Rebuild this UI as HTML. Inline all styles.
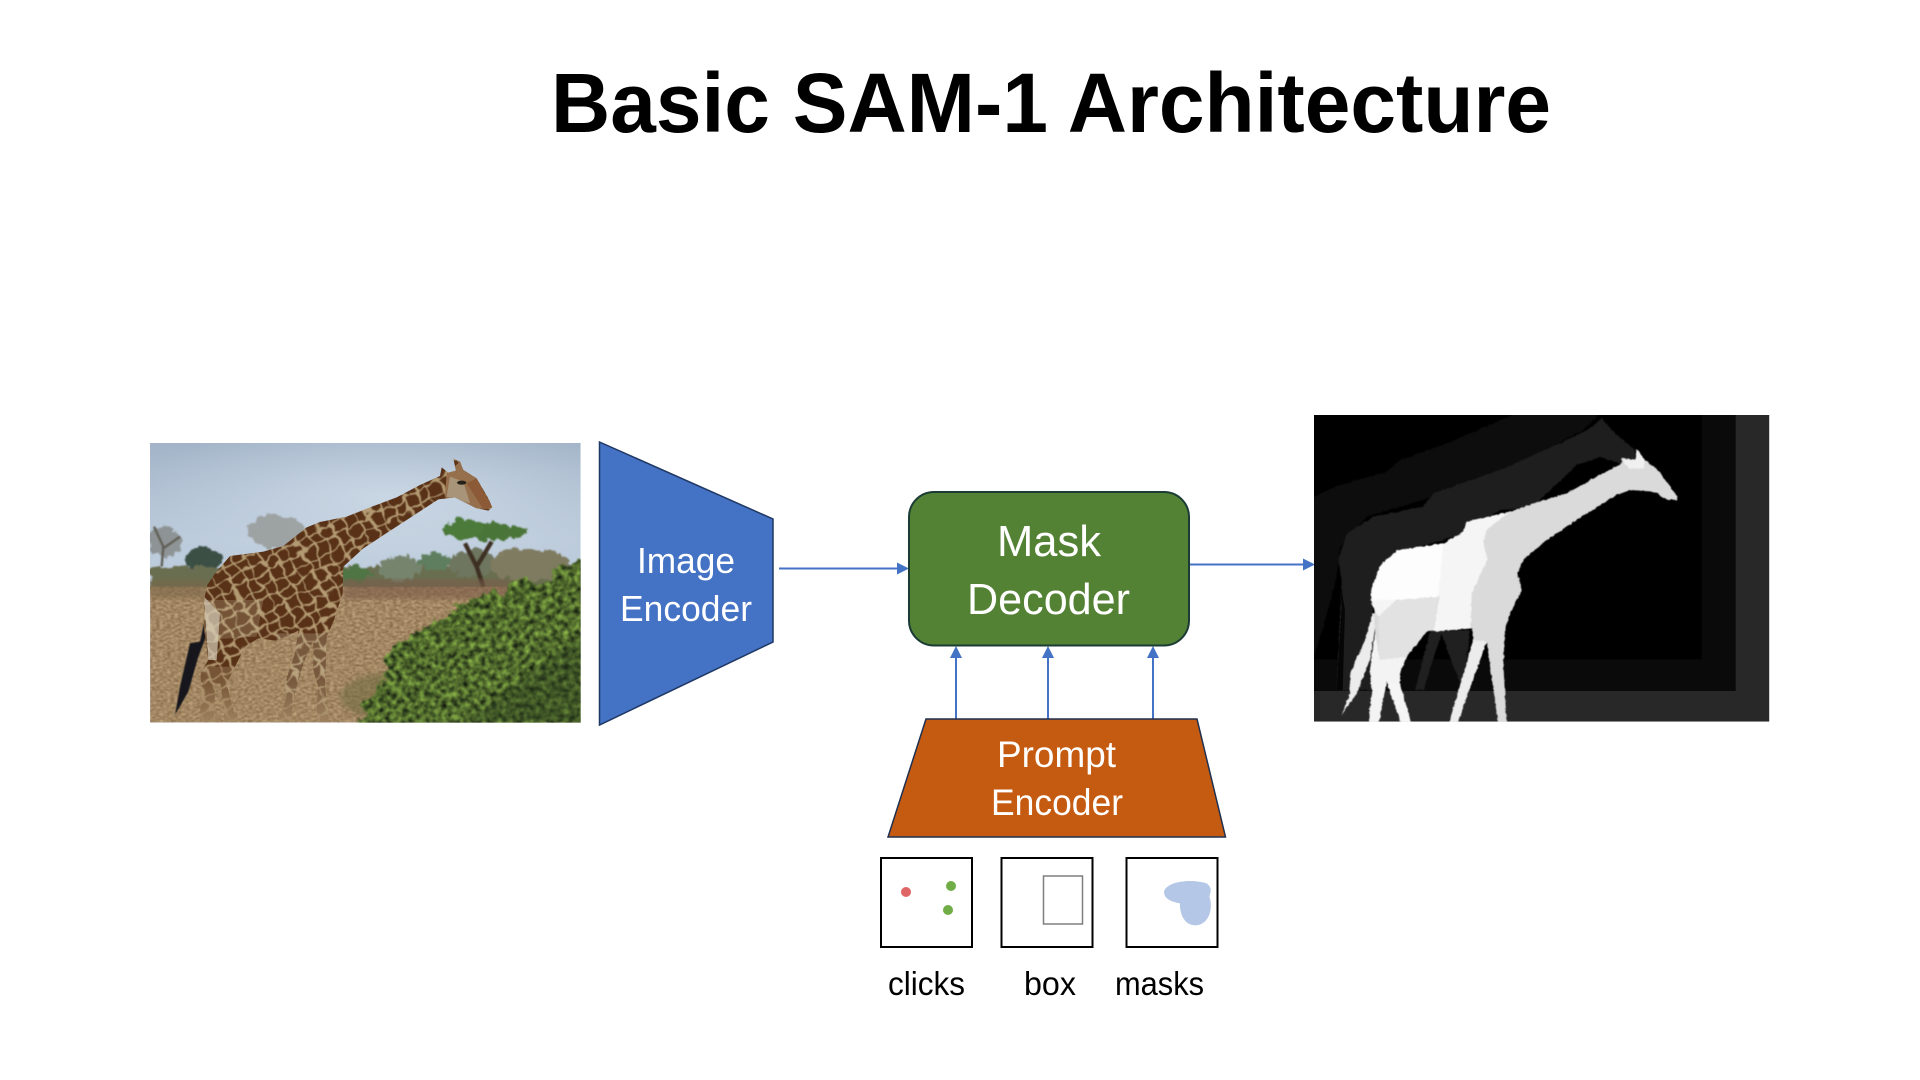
<!DOCTYPE html>
<html><head><meta charset="utf-8"><title>Basic SAM-1 Architecture</title>
<style>html,body{margin:0;padding:0;background:#fff;width:1920px;height:1080px;overflow:hidden}svg{display:block}text{font-family:"Liberation Sans",sans-serif}</style>
</head><body>
<svg width="1920" height="1080" viewBox="0 0 1920 1080" xmlns="http://www.w3.org/2000/svg">
<defs>
<linearGradient id="sky" x1="0" y1="0" x2="0" y2="1"><stop offset="0" stop-color="#a3b4c8"/><stop offset=".35" stop-color="#bccbdb"/><stop offset=".6" stop-color="#bfcede"/><stop offset="1" stop-color="#c9d6e3"/></linearGradient>
<radialGradient id="skyGlow" cx=".55" cy=".4" r=".6"><stop offset="0" stop-color="#d4e0ec" stop-opacity=".7"/><stop offset="1" stop-color="#d4e0ec" stop-opacity="0"/></radialGradient>
<linearGradient id="legFade" x1="0" y1="0" x2="0" y2="1"><stop offset="0" stop-color="#a58a66" stop-opacity="0"/><stop offset="1" stop-color="#a58a66" stop-opacity=".85"/></linearGradient>
<filter id="b1" x="-5%" y="-5%" width="110%" height="110%"><feGaussianBlur stdDeviation="2.500"/></filter>
<filter id="b2" x="-5%" y="-5%" width="110%" height="110%"><feGaussianBlur stdDeviation="1.500"/></filter>
<filter id="b3" x="-5%" y="-5%" width="110%" height="110%"><feGaussianBlur stdDeviation="8"/></filter>
<filter id="rough" x="-5%" y="-5%" width="110%" height="110%" color-interpolation-filters="sRGB"><feTurbulence type="fractalNoise" baseFrequency=".04" numOctaves="3" seed="2"/><feDisplacementMap in="SourceGraphic" scale="34" xChannelSelector="R" yChannelSelector="G"/><feGaussianBlur stdDeviation="2"/></filter>
<filter id="bush" x="-5%" y="-5%" width="110%" height="110%" color-interpolation-filters="sRGB"><feTurbulence type="fractalNoise" baseFrequency=".03" numOctaves="4" seed="3" result="n"/><feDisplacementMap in="SourceGraphic" in2="n" scale="70" xChannelSelector="R" yChannelSelector="G" result="d"/><feTurbulence type="fractalNoise" baseFrequency=".06" numOctaves="3" seed="7"/><feColorMatrix values=".75 0 0 0 -.06  .95 0 0 0 -.06  .35 0 0 0 0  0 0 0 0 1" result="c"/><feComposite in="c" in2="d" operator="in"/><feGaussianBlur stdDeviation="2"/></filter>
<filter id="grass" x="0" y="0" width="100%" height="100%" color-interpolation-filters="sRGB"><feTurbulence type="fractalNoise" baseFrequency=".09 .15" numOctaves="3" seed="11"/><feColorMatrix values=".4 0 0 0 .44  .4 0 0 0 .33  .36 0 0 0 .21  0 0 0 0 1" result="c"/><feComposite in="c" in2="SourceGraphic" operator="in"/><feGaussianBlur stdDeviation="1.500"/></filter>
<filter id="wobble" x="-5%" y="-5%" width="110%" height="110%" color-interpolation-filters="sRGB"><feTurbulence type="fractalNoise" baseFrequency=".025" numOctaves="2" seed="4"/><feDisplacementMap in="SourceGraphic" scale="34" xChannelSelector="R" yChannelSelector="G"/><feGaussianBlur stdDeviation="1.200"/></filter>
<filter id="maskEdge" x="-3%" y="-3%" width="106%" height="106%" color-interpolation-filters="sRGB"><feTurbulence type="fractalNoise" baseFrequency=".09" numOctaves="2" seed="6"/><feDisplacementMap in="SourceGraphic" scale="8" xChannelSelector="R" yChannelSelector="G"/><feGaussianBlur stdDeviation="1.200"/></filter>
<pattern id="spots" width="115" height="105" patternUnits="userSpaceOnUse" patternTransform="rotate(-28)">
<rect width="115" height="105" fill="#b39a72"/>
<g fill="#583117">
<path d="M2,3 L35,2 L38,27 L20,35 L2,30Z"/><path d="M42,3 L75,4 L72,30 L44,32Z"/><path d="M81,2 L114,7 L112,32 L78,30Z"/>
<path d="M3,38 L30,38 L40,62 L20,69 L2,64Z"/><path d="M46,37 L75,35 L80,60 L55,67 L44,57Z"/><path d="M84,37 L114,37 L114,64 L87,66Z"/>
<path d="M3,74 L36,72 L32,103 L5,103Z"/><path d="M43,70 L75,69 L78,103 L46,103Z"/><path d="M84,70 L114,70 L112,103 L82,103Z"/>
</g>
</pattern>
<clipPath id="photoClip"><rect x="60" y="69" width="1292" height="839"/></clipPath>
<clipPath id="maskClip"><rect x="42" y="45" width="1366" height="920"/></clipPath>
<clipPath id="gClip"><path d="M1087,262 L1075,235 L1040,175 L1000,150 L990,125 L970,116 L978,152 L955,158 L935,142 L930,168 L870,195 L800,232 L720,262 L650,290 L570,306 L530,322 L460,378 L400,395 L300,408 L255,460 L232,495 L222,540 L222,625 L235,720 L212,760 L212,905 L252,905 L255,790 L272,790 L285,905 L318,905 L290,790 L345,680 L385,655 L440,662 L505,632 L495,700 L465,790 L470,830 L445,905 L480,905 L495,820 L520,730 L550,660 L550,750 L565,800 L560,905 L595,905 L585,790 L590,650 L612,600 L638,520 L640,440 L700,385 L830,300 L925,238 L975,232 L1040,265 L1075,272Z"/></clipPath>
</defs>
<rect width="1920" height="1080" fill="#fff"/>

<text x="551" y="132" font-size="84" font-weight="700" fill="#000" textLength="1000" lengthAdjust="spacingAndGlyphs">Basic SAM-1 Architecture</text>

<!-- Photo -->
<g transform="translate(130,420) scale(.33333)" clip-path="url(#photoClip)">
<rect x="60" y="69" width="1292" height="839" fill="url(#sky)"/>
<rect x="60" y="69" width="1292" height="400" fill="url(#skyGlow)"/>
<g filter="url(#rough)">
<ellipse cx="105" cy="365" rx="50" ry="45" fill="#6f7068" opacity=".6"/>
<ellipse cx="440" cy="335" rx="85" ry="50" fill="#8a8a82" opacity=".65"/>
<ellipse cx="222" cy="420" rx="55" ry="36" fill="#3c4f45"/>
<rect x="60" y="440" width="1292" height="70" fill="#6a6e50"/>
<ellipse cx="810" cy="445" rx="65" ry="38" fill="#76846e"/>
<ellipse cx="915" cy="425" rx="50" ry="26" fill="#5f7e5f"/>
<ellipse cx="1030" cy="430" rx="70" ry="42" fill="#6f7660"/>
<ellipse cx="1200" cy="435" rx="120" ry="50" fill="#7f7b60"/>
<ellipse cx="680" cy="462" rx="45" ry="24" fill="#4f7545"/>
<ellipse cx="1065" cy="335" rx="125" ry="26" fill="#4a7538"/>
<ellipse cx="1005" cy="325" rx="60" ry="28" fill="#4b7a3a"/>
</g>
<g filter="url(#b1)"><path d="M1068,525 L1040,440 L1005,370 M1040,440 L1085,365" stroke="#3c2f22" stroke-width="13" fill="none"/>
<path d="M95,440 L100,380 L72,320 M100,385 L150,350" stroke="#5e5d54" stroke-width="7" fill="none"/></g>
<path d="M60,500 H1352 V908 H60Z" fill="#fff" filter="url(#grass)"/>
<g filter="url(#b3)"><rect x="640" y="478" width="500" height="60" fill="#7a5b49" opacity=".6"/><rect x="60" y="480" width="170" height="55" fill="#7c6548" opacity=".6"/></g>
<g filter="url(#b3)"><ellipse cx="800" cy="830" rx="170" ry="75" fill="#6e6a3e" opacity=".55"/></g>
<path d="M1380,420 L1290,430 L1260,480 L1160,490 L1040,535 L940,590 L860,640 L770,690 L760,790 L700,860 L700,930 L1380,930Z" fill="#000" filter="url(#bush)"/>
<path d="M1352,640 L1200,760 L1010,908 L1352,908Z" fill="#26391a" opacity=".4" filter="url(#b3)"/>
<!-- tail -->
<path d="M222,610 L210,665 L180,670 L150,800 L135,885 L175,815 L205,710 L232,640Z" fill="#15151a" filter="url(#b2)"/>
<!-- giraffe -->
<g clip-path="url(#gClip)">
<rect x="40" y="50" width="1340" height="880" fill="url(#spots)" filter="url(#wobble)"/>
<path d="M222,540 L222,660 L380,650 L400,540Z" fill="#cdbb97" opacity=".25"/>
<path d="M1087,262 L1040,175 L990,125 L950,160 L945,232 L1040,265Z" fill="#96704c"/>
<path d="M950,230 L1020,250 L1000,185 L960,170Z" fill="#a89478"/>
<path d="M1040,175 L1087,262 L1060,268 L1010,190Z" fill="#8c5a36"/>
<path d="M222,530 L270,580 L260,720 L235,720Z" fill="#d5cdb8" opacity=".7"/>
<path d="M205,740 H330 V905 H205Z" fill="#a58a66" opacity=".4"/>
<path d="M440,640 H600 V905 H440Z" fill="#c4b598" opacity=".3"/>
<rect x="200" y="780" width="420" height="130" fill="url(#legFade)"/>
</g>
<ellipse cx="995" cy="188" rx="14" ry="6" fill="#252018"/>
</g>

<!-- Image Encoder -->
<polygon points="599.500,442 773,519 773,642 599.500,725" fill="#4472c4" stroke="#1f3864" stroke-width="1.500"/>
<text x="637" y="573" font-size="36" fill="#fff" textLength="98" lengthAdjust="spacingAndGlyphs">Image</text>
<text x="620" y="621" font-size="36" fill="#fff" textLength="132" lengthAdjust="spacingAndGlyphs">Encoder</text>

<!-- Arrows -->
<g stroke="#4472c4" stroke-width="2" fill="none">
<line x1="779" y1="568.500" x2="900" y2="568.500"/>
<line x1="1189" y1="564.500" x2="1305" y2="564.500"/>
<line x1="956" y1="719" x2="956" y2="655"/>
<line x1="1048" y1="719" x2="1048" y2="655"/>
<line x1="1153" y1="719" x2="1153" y2="655"/>
</g>
<g fill="#4472c4">
<polygon points="909,568.500 897,562.500 897,574.500"/>
<polygon points="1315,564.500 1303,558.500 1303,570.500"/>
<polygon points="956,646 950,658 962,658"/>
<polygon points="1048,646 1042,658 1054,658"/>
<polygon points="1153,646 1147,658 1159,658"/>
</g>

<!-- Mask Decoder -->
<rect x="909" y="492" width="280" height="153.500" rx="25" ry="25" fill="#548235" stroke="#1b3b35" stroke-width="2"/>
<text x="997" y="556" font-size="44" fill="#fff" textLength="104" lengthAdjust="spacingAndGlyphs">Mask</text>
<text x="967" y="614" font-size="44" fill="#fff" textLength="163" lengthAdjust="spacingAndGlyphs">Decoder</text>

<!-- Prompt Encoder -->
<polygon points="926,719 1197,719 1225.500,837 888,837" fill="#c55a11" stroke="#1f3050" stroke-width="1.500"/>
<text x="997" y="767" font-size="37" fill="#fff" textLength="119" lengthAdjust="spacingAndGlyphs">Prompt</text>
<text x="991" y="815" font-size="37" fill="#fff" textLength="132" lengthAdjust="spacingAndGlyphs">Encoder</text>

<!-- Mask output -->
<g transform="translate(1300,400) scale(.33333)" clip-path="url(#maskClip)">
<rect x="42" y="45" width="1366" height="920" fill="#282828"/>
<rect x="42" y="45" width="1265" height="828" fill="#0a0a0a"/>
<rect x="42" y="45" width="1163" height="733" fill="#000"/>
<g filter="url(#maskEdge)">
<polygon points="20,300 110,258 260,215 300,180 440,130 650,40 900,40 850,90 600,220 400,290 200,350 120,440 110,530 70,680 20,840" fill="#0d0d0d"/>
<polygon points="870,85 905,55 935,90 1005,150 1005,180 960,190 900,172 830,195 700,320 600,330 490,400 400,430 300,450 240,500 215,600 225,700 210,810 235,870 110,870 125,540 115,480 140,400 220,350 370,320 400,280 600,210 800,120" fill="#1e1e1e"/>
<polygon points="390,695 510,690 490,870 460,800 425,700 370,870 345,870" fill="#202020"/>
</g>
<polygon points="120,540 135,630 128,870 110,870 125,620" fill="#060606"/>
<g filter="url(#maskEdge)">
<polygon points="218,640 195,720 150,820 150,880 125,945 170,880 210,780 232,640" fill="#ececec"/>
<polygon points="1132,300 1100,298 1060,275 990,270 950,285 860,340 740,420 670,480 652,520 665,570 630,640 615,690 610,790 620,975 595,975 560,725 470,975 445,975 520,720 515,685 380,695 320,770 300,820 300,850 335,975 305,975 260,845 235,975 205,975 215,880 210,810 225,700 222,630 212,600 215,560 245,490 295,450 430,430 490,395 500,365 630,335 700,310 800,280 900,225 965,190 965,175 1005,178 1010,145 1035,180 1070,205 1132,290" fill="#dadada"/>
<polygon points="212,600 215,560 245,490 295,450 430,430 490,395 500,365 630,335 560,390 550,430 562,480 515,580 512,685 400,695 418,590 290,600 235,650 222,630" fill="#f5f5f5"/>
<polygon points="245,490 295,450 430,430 415,590 290,600 215,600 215,560" fill="#fdfdfd"/>
<polygon points="235,650 290,600 415,590 400,690 380,695 320,770 270,780 240,780" fill="#e2e2e2"/>
<polygon points="965,178 1005,180 1012,150 1035,182 1030,205 985,205" fill="#f0f0f0"/>
<polygon points="225,700 210,810 215,880 205,975 235,975 260,845 300,850 300,820 320,770 240,780" fill="#f3f3f3"/>
<polygon points="260,845 305,975 335,975 300,850" fill="#f5f5f5"/>
<polygon points="445,975 470,975 560,725 520,720" fill="#ececec"/>
</g>
</g>

<!-- prompt boxes -->
<g fill="#fff" stroke="#000" stroke-width="2">
<rect x="881" y="858" width="91" height="89"/>
<rect x="1001.500" y="858" width="91" height="89"/>
<rect x="1126.500" y="858" width="91" height="89"/>
</g>
<circle cx="906" cy="892" r="5" fill="#e06666"/>
<circle cx="951" cy="886" r="5" fill="#70ad47"/>
<circle cx="948" cy="910" r="5" fill="#70ad47"/>
<rect x="1043.500" y="876" width="39" height="48" fill="#fff" stroke="#7f7f7f" stroke-width="1.500"/>
<g transform="translate(860,840) scale(.33333)"><path d="M912,155 C920,125 990,115 1040,130 C1060,145 1050,160 1048,170 C1060,200 1050,255 1005,256 C970,255 958,215 960,190 C930,185 912,175 912,155Z" fill="#b4c7e7"/></g>

<text x="888" y="995" font-size="33" fill="#000" textLength="77" lengthAdjust="spacingAndGlyphs">clicks</text>
<text x="1024" y="995" font-size="33" fill="#000" textLength="52" lengthAdjust="spacingAndGlyphs">box</text>
<text x="1115" y="995" font-size="33" fill="#000" textLength="89" lengthAdjust="spacingAndGlyphs">masks</text>
</svg>
</body></html>
